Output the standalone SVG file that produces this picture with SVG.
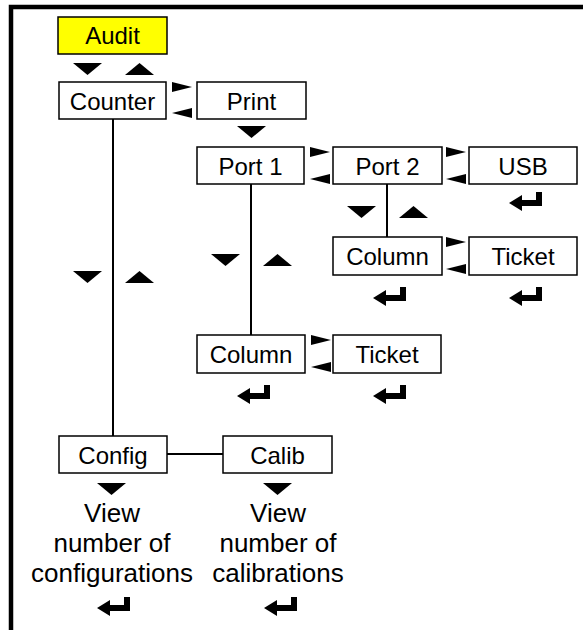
<svg xmlns="http://www.w3.org/2000/svg" xmlns:xlink="http://www.w3.org/1999/xlink" width="583" height="630" viewBox="0 0 583 630">
<style>
.box{fill:#fff;stroke:#000;stroke-width:1.5}
.lbl{font-family:"Liberation Sans",Arial,sans-serif;font-size:24px;fill:#000;text-anchor:middle}
.txt{font-family:"Liberation Sans",Arial,sans-serif;font-size:26px;fill:#000;text-anchor:middle}
.ln{stroke:#000;stroke-width:2;fill:none}
</style>
<defs>
<path id="dn" d="M0,0 H29 L14.5,12 Z" fill="#000"/>
<path id="up" d="M0,12 H29 L14.5,0 Z" fill="#000"/>
<path id="rt" d="M0,0 L20,5 L0,10 Z" fill="#000"/>
<path id="lt" d="M20,0 L0,5 L20,10 Z" fill="#000"/>
<polygon id="ent" points="0,11 13,3 13,8 27,8 27,0 33,0 33,14 13,14 13,19" fill="#000"/>
</defs>
<rect width="583" height="630" fill="#fff"/>
<path d="M11,630 V7 H583" stroke="#000" stroke-width="4.5" fill="none"/>

<g id="connectors">
<line class="ln" x1="113" y1="119" x2="113" y2="436"/>
<line class="ln" x1="251" y1="184" x2="251" y2="335"/>
<line class="ln" x1="387" y1="184" x2="387" y2="237"/>
<line class="ln" x1="167" y1="454" x2="223" y2="454"/>
<use href="#dn" x="73" y="63"/><use href="#up" x="125" y="63"/>
<use href="#rt" x="172" y="82"/><use href="#lt" x="172" y="108"/>
<use href="#dn" x="237" y="126"/>
<use href="#rt" x="310" y="147"/><use href="#lt" x="310" y="174"/>
<use href="#rt" x="446" y="147"/><use href="#lt" x="446" y="174"/>
<use href="#dn" x="347" y="206"/><use href="#up" x="399" y="206"/>
<use href="#rt" x="446" y="237"/><use href="#lt" x="446" y="264"/>
<use href="#dn" x="73" y="271"/><use href="#up" x="125" y="271"/>
<use href="#dn" x="211" y="254"/><use href="#up" x="263" y="254"/>
<use href="#rt" x="311" y="335"/><use href="#lt" x="311" y="362"/>
<use href="#dn" x="97" y="483"/><use href="#dn" x="263" y="483"/>
<use href="#ent" x="509" y="192"/>
<use href="#ent" x="373" y="287"/><use href="#ent" x="509" y="287"/>
<use href="#ent" x="237" y="385"/><use href="#ent" x="373" y="385"/>
<use href="#ent" x="97" y="597"/><use href="#ent" x="264" y="597"/>
</g>

<g id="audit"><rect class="box" x="58" y="17" width="109" height="37" style="fill:#ffff00"/><text class="lbl" x="112.5" y="44">Audit</text></g>
<g id="counter"><rect class="box" x="59" y="82" width="107" height="37"/><text class="lbl" x="112.5" y="109.5">Counter</text></g>
<g id="print"><rect class="box" x="197" y="82" width="109" height="37"/><text class="lbl" x="251.5" y="109.5">Print</text></g>
<g id="port1"><rect class="box" x="197" y="147" width="107" height="37"/><text class="lbl" x="250.5" y="174.5">Port 1</text></g>
<g id="port2"><rect class="box" x="333" y="147" width="109" height="37"/><text class="lbl" x="387.5" y="174.5">Port 2</text></g>
<g id="usb"><rect class="box" x="469" y="147" width="108" height="37"/><text class="lbl" x="523" y="174.5">USB</text></g>
<g id="column2"><rect class="box" x="333" y="237" width="109" height="38"/><text class="lbl" x="387.5" y="264.5">Column</text></g>
<g id="ticket2"><rect class="box" x="469" y="237" width="108" height="38"/><text class="lbl" x="523" y="264.5">Ticket</text></g>
<g id="column1"><rect class="box" x="197" y="335" width="108" height="38"/><text class="lbl" x="251" y="362.5">Column</text></g>
<g id="ticket1"><rect class="box" x="333" y="335" width="108" height="38"/><text class="lbl" x="387" y="362.5">Ticket</text></g>
<g id="config"><rect class="box" x="59" y="436" width="108" height="37"/><text class="lbl" x="113" y="463.5">Config</text></g>
<g id="calib"><rect class="box" x="223" y="436" width="109" height="37"/><text class="lbl" x="277.5" y="463.5">Calib</text></g>
<g id="config-view"><text class="txt" x="112" y="522">View</text><text class="txt" x="112" y="552">number of</text><text class="txt" x="112" y="582">configurations</text></g>
<g id="calib-view"><text class="txt" x="278" y="522">View</text><text class="txt" x="278" y="552">number of</text><text class="txt" x="278" y="582">calibrations</text></g>
</svg>
